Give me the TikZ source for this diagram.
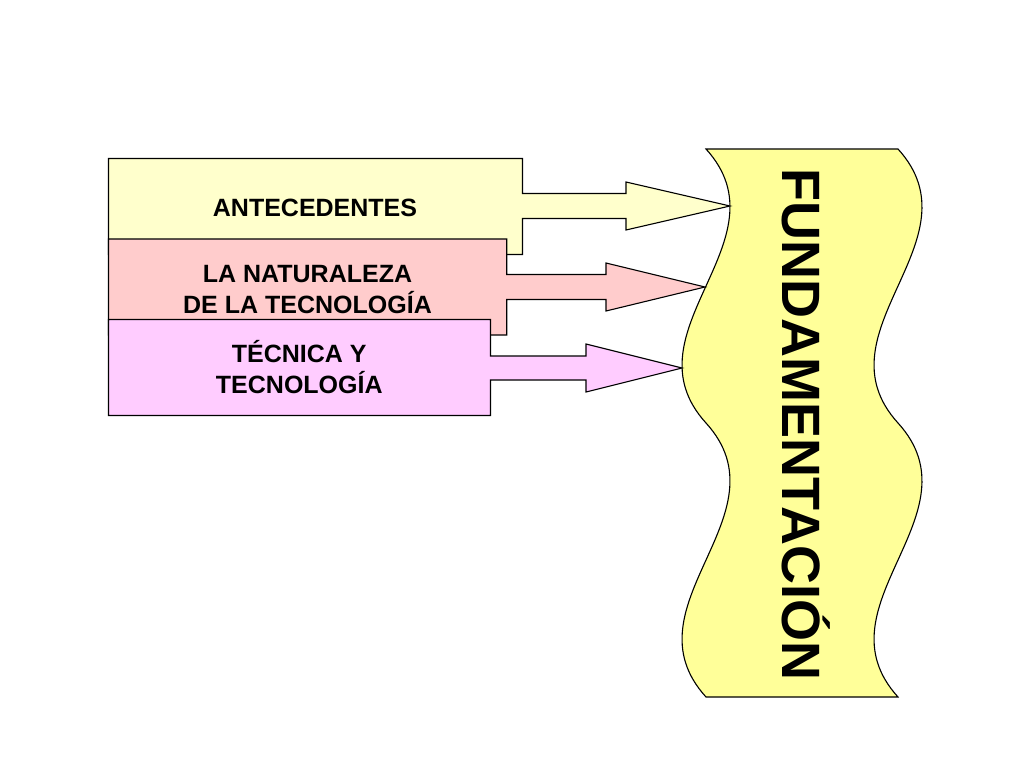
\documentclass[tikz,border=0pt]{standalone}
\usepackage{fontspec}
\setmainfont{Liberation Sans}
\definecolor{cyel}{HTML}{FFFFCC}
\definecolor{cpink}{HTML}{FFCCCC}
\definecolor{cmag}{HTML}{FFCCFF}
\definecolor{cwave}{HTML}{FFFF99}
\tikzset{
  shapeline/.style={draw=black, line width=1.1pt, line join=miter},
  boxtext/.style={anchor=base, align=center, inner sep=0pt, font=\fontsize{25}{31}\selectfont\bfseries},
  bigtext/.style={anchor=base, inner sep=0pt, rotate=-90, font=\fontsize{54}{60}\selectfont\bfseries}
}
\begin{document}
\begin{tikzpicture}[x=1pt, y=-1pt]
\useasboundingbox (0,0) rectangle (1024,768);
% wavy banner
\draw[shapeline, fill=cwave] (706,149) -- (898,149)
  .. controls (981,240.3) and (815,331.7) .. (898,423)
  .. controls (981,514.3) and (815,605.7) .. (898,697)
  -- (706,697)
  .. controls (623,605.7) and (789,514.3) .. (706,423)
  .. controls (623,331.7) and (789,240.3) .. (706,149) -- cycle;
\node[bigtext] (fund) at (782.7,424.5) {FUNDAMENTACIÓN};
% arrow tips
\coordinate (tip1) at (730,206);
\coordinate (tip2) at (705,287);
\coordinate (tip3) at (682,368);
% box 1
\draw[shapeline, fill=cyel] (108.5,158.5) -- (522.5,158.5) -- (522.5,193.5) -- (626,193.5) -- (626,182)
  -- (tip1) -- (626,230) -- (626,218.5) -- (522.5,218.5) -- (522.5,254.5) -- (108.5,254.5) -- cycle;
% box 2
\draw[shapeline, fill=cpink] (108.5,239) -- (506.7,239) -- (506.7,274.5) -- (606,274.5) -- (606,263)
  -- (tip2) -- (606,311) -- (606,299.5) -- (506.7,299.5) -- (506.7,335) -- (108.5,335) -- cycle;
% box 3
\draw[shapeline, fill=cmag] (108.5,319.5) -- (490.5,319.5) -- (490.5,356) -- (586,356) -- (586,344)
  -- (tip3) -- (586,392) -- (586,380) -- (490.5,380) -- (490.5,415.5) -- (108.5,415.5) -- cycle;
\node[boxtext] (antec) at (315,216.8) {ANTECEDENTES};
\node[boxtext] (natur) at (307.5,313.3) {LA NATURALEZA\\DE LA TECNOLOGÍA};
\node[boxtext] (tecn) at (299.3,393.6) {TÉCNICA Y\\TECNOLOGÍA};
\end{tikzpicture}
\end{document}
